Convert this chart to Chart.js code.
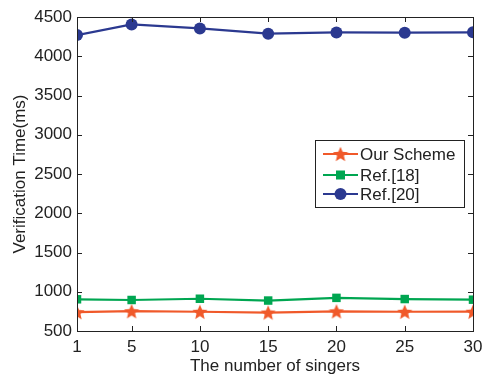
<!DOCTYPE html>
<html>
<head>
<meta charset="utf-8">
<script src="https://cdn.jsdelivr.net/npm/chart.js@4/dist/chart.umd.min.js"></script>
<style>
  html, body { margin: 0; padding: 0; background: #fff; }
  #wrap { width: 482px; height: 375px; }
</style>
</head>
<body>
<div id="wrap"><canvas id="verifyChart" width="482" height="375"></canvas></div>
<script>
const singers = [1, 5, 10, 15, 20, 25, 30];
const ourScheme = [740, 752, 745, 735, 750, 745, 746];
const ref18 = [904, 895, 911, 888, 922, 907, 899];
const ref20 = [4270, 4405, 4355, 4288, 4303, 4300, 4305];
const xTicks = [1, 5, 10, 15, 20, 25, 30];
const yTicks = [500, 1000, 1500, 2000, 2500, 3000, 3500, 4000, 4500];

const RED = "#f0592a";
const GREEN = "#00a651";
const BLUE = "#2b3990";
const FONT = "'Liberation Sans', Arial, Helvetica, sans-serif";

function makeStar(size, color) {
  const c = document.createElement("canvas");
  c.width = size;
  c.height = size;
  const ctx = c.getContext("2d");
  const cx = size / 2, cy = size / 2 + 0.7;
  const outer = size / 2, inner = outer * 0.45;
  ctx.beginPath();
  for (let i = 0; i < 10; i++) {
    const r = i % 2 === 0 ? outer : inner;
    const a = -Math.PI / 2 + i * Math.PI / 5;
    const px = cx + r * Math.cos(a), py = cy + r * Math.sin(a);
    if (i === 0) ctx.moveTo(px, py); else ctx.lineTo(px, py);
  }
  ctx.closePath();
  ctx.fillStyle = color;
  ctx.fill();
  return c;
}
const star = makeStar(16, RED);

const toPts = (arr) => arr.map((v, i) => ({ x: singers[i], y: v }));

const series = [
  { label: "Our Scheme", data: ourScheme, color: RED, style: star, radius: 8 },
  { label: "Ref.[18]", data: ref18, color: GREEN, style: "rect", radius: 6 },
  { label: "Ref.[20]", data: ref20, color: BLUE, style: "circle", radius: 6 }
];

const frame = {
  id: "frame",
  afterDraw(chart) {
    const { ctx, chartArea: a, scales } = chart;
    ctx.save();
    ctx.strokeStyle = "#222";
    ctx.lineWidth = 1;
    ctx.strokeRect(Math.round(a.left) + 0.5, Math.round(a.top) + 0.5,
      Math.round(a.right - a.left), Math.round(a.bottom - a.top));
    const len = 5;
    ctx.beginPath();
    xTicks.forEach((t) => {
      const x = Math.round(scales.x.getPixelForValue(t)) + 0.5;
      ctx.moveTo(x, a.bottom); ctx.lineTo(x, a.bottom - len);
      ctx.moveTo(x, a.top); ctx.lineTo(x, a.top + len);
    });
    yTicks.forEach((t) => {
      const y = Math.round(scales.y.getPixelForValue(t)) + 0.5;
      ctx.moveTo(a.left, y); ctx.lineTo(a.left + len, y);
      ctx.moveTo(a.right, y); ctx.lineTo(a.right - len, y);
    });
    ctx.stroke();

    // legend box
    const bx = 315.5, by = 140.5, bw = 149, bh = 67;
    ctx.fillStyle = "#fff";
    ctx.fillRect(bx, by, bw, bh);
    ctx.strokeStyle = "#222";
    ctx.strokeRect(bx, by, bw, bh);
    ctx.font = "17px " + FONT;
    ctx.textBaseline = "middle";
    const rows = [154, 175, 194];
    series.forEach((s, i) => {
      const y = rows[i];
      ctx.strokeStyle = s.color;
      ctx.lineWidth = 2;
      ctx.beginPath();
      ctx.moveTo(323, y); ctx.lineTo(358, y);
      ctx.stroke();
      if (s.style === "circle") {
        ctx.fillStyle = s.color;
        ctx.beginPath(); ctx.arc(340.5, y, s.radius, 0, Math.PI * 2); ctx.fill();
      } else if (s.style === "rect") {
        ctx.fillStyle = s.color;
        ctx.fillRect(340.5 - 4.5, y - 4.5, 9, 9);
      } else {
        ctx.drawImage(s.style, 340.5 - s.style.width / 2, y - s.style.height / 2);
      }
      ctx.fillStyle = "#222";
      ctx.fillText(s.label, 360, y + 1);
    });
    ctx.restore();
  }
};

new Chart(document.getElementById("verifyChart"), {
  type: "line",
  data: {
    datasets: series.map((s) => ({
      label: s.label,
      data: toPts(s.data),
      borderColor: s.color,
      backgroundColor: s.color,
      borderWidth: 2.2,
      pointStyle: s.style,
      pointRadius: s.radius,
      pointBorderWidth: 0,
      pointHoverRadius: s.radius,
      tension: 0
    }))
  },
  options: {
    responsive: false,
    animation: false,
    layout: { padding: { top: 17, right: 0, left: 0, bottom: 0 } },
    plugins: { legend: { display: false }, tooltip: { enabled: false } },
    scales: {
      x: {
        type: "linear",
        min: 1,
        max: 30,
        afterBuildTicks: (axis) => { axis.ticks = xTicks.map((v) => ({ value: v })); },
        afterFit: (axis) => { axis.height = 44; axis.paddingRight = 9; axis.paddingLeft = 0; },
        grid: { display: false, drawTicks: false },
        border: { display: false },
        ticks: { padding: 6, color: "#222", font: { family: FONT, size: 17 }, maxRotation: 0, autoSkip: false, callback: (v) => String(v) },
        title: { display: true, text: "The number of singers", color: "#222", font: { family: FONT, size: 17 }, padding: { top: 0, bottom: -2 } }
      },
      y: {
        min: 500,
        max: 4500,
        afterBuildTicks: (axis) => { axis.ticks = yTicks.map((v) => ({ value: v })); },
        afterFit: (axis) => { axis.width = 77; },
        grid: { display: false, drawTicks: false },
        border: { display: false },
        ticks: { padding: 5, color: "#222", font: { family: FONT, size: 17 }, callback: (v) => String(v) },
        title: { display: true, text: "Verification Time(ms)", color: "#222", font: { family: FONT, size: 17 }, padding: { top: 10, bottom: 0 } }
      }
    }
  },
  plugins: [frame]
});
</script>
</body>
</html>
